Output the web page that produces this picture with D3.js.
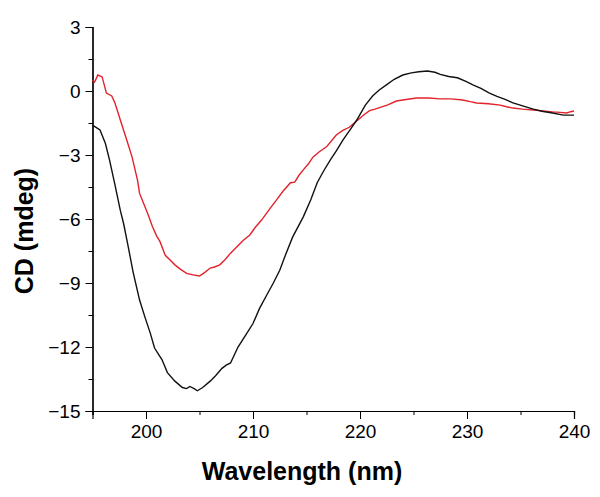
<!DOCTYPE html>
<html><head><meta charset="utf-8">
<script src="https://cdn.jsdelivr.net/npm/d3@7"></script>
<style>body{margin:0;background:#fff}svg{display:block}</style>
</head><body><svg id="c" width="600" height="497"></svg>
<script>
const xTicks = [200, 210, 220, 230, 240];
const yTicks = [3, 0, -3, -6, -9, -12, -15];
const blackWl = [195.0,195.4,195.7,196.2,196.6,197.1,197.6,197.9,198.3,198.8,199.4,199.9,200.4,200.8,201.5,202.0,202.7,203.4,203.8,204.1,204.5,204.8,205.3,206.0,206.5,207.1,207.5,207.9,208.6,209.3,210.0,210.6,211.3,211.9,212.5,213.1,213.7,214.7,215.4,216.0,216.6,217.2,217.8,218.4,219.1,219.7,220.5,221.2,221.8,222.5,223.2,224.0,224.8,225.5,226.3,227.0,227.5,228.3,229.1,229.9,230.6,231.3,232.1,232.8,233.5,234.3,235.2,236.2,237.0,238.0,239.0,240.0];
const blackCD = [-1.6,-1.73,-1.83,-2.45,-3.25,-4.4,-5.6,-6.2,-7.2,-8.5,-9.8,-10.6,-11.35,-12.05,-12.6,-13.2,-13.6,-13.9,-13.95,-13.85,-13.95,-14.05,-13.9,-13.6,-13.35,-13.0,-12.85,-12.75,-12.0,-11.45,-10.9,-10.2,-9.55,-9.0,-8.4,-7.6,-6.85,-5.9,-5.1,-4.3,-3.75,-3.25,-2.8,-2.3,-1.8,-1.36,-0.66,-0.22,0.05,0.3,0.55,0.75,0.85,0.9,0.94,0.88,0.78,0.68,0.62,0.45,0.28,0.12,-0.1,-0.25,-0.38,-0.56,-0.7,-0.85,-0.95,-1.03,-1.13,-1.13];
const redWl = [195.0,195.2,195.5,195.9,196.3,196.8,197.1,197.6,198.2,198.7,199.2,199.4,199.8,200.2,200.6,201.0,201.3,201.8,202.3,202.7,203.2,203.8,204.4,205.0,205.5,206.0,206.4,206.9,207.4,207.9,208.5,209.1,209.7,210.2,210.8,211.6,212.2,212.8,213.5,213.9,214.3,214.7,215.2,215.6,216.2,216.9,217.8,218.4,219.0,219.8,220.4,220.9,221.4,221.9,222.6,223.4,224.3,225.3,226.4,227.5,228.5,229.6,230.3,230.9,232.0,233.1,233.7,234.3,235.2,236.2,237.1,238.0,238.7,239.3,239.7,240.0];
const redCD = [0.52,0.42,0.75,0.66,-0.1,-0.23,-0.56,-1.36,-2.3,-3.1,-4.17,-4.8,-5.3,-5.8,-6.35,-6.8,-7.05,-7.7,-7.95,-8.15,-8.35,-8.55,-8.62,-8.67,-8.5,-8.3,-8.25,-8.15,-7.9,-7.6,-7.3,-7.0,-6.75,-6.4,-6.05,-5.5,-5.1,-4.7,-4.3,-4.27,-3.95,-3.7,-3.4,-3.1,-2.85,-2.6,-2.05,-1.85,-1.7,-1.36,-1.1,-0.92,-0.85,-0.77,-0.65,-0.47,-0.4,-0.33,-0.33,-0.37,-0.37,-0.42,-0.5,-0.56,-0.6,-0.66,-0.74,-0.8,-0.85,-0.89,-0.93,-0.98,-1.0,-1.03,-0.97,-0.94];

const svg = d3.select("#c");
const x = d3.scaleLinear().domain([195, 240]).range([92.5, 574]);
const y = d3.scaleLinear().domain([-15, 3]).range([411, 27]);
const font = "Arial, 'Liberation Sans', sans-serif";

const xMinor = d3.range(195, 241, 5).filter(v => !xTicks.includes(v));
const yMinor = d3.range(-13.5, 3, 3);
const gx = svg.append("g").attr("transform", "translate(0,411)");
gx.call(d3.axisBottom(x).tickValues(xMinor).tickSize(4).tickFormat(""));
gx.append("g").call(d3.axisBottom(x).tickValues(xTicks).tickSize(8).tickPadding(6).tickFormat(d3.format("d")));
gx.selectAll("path.domain").attr("stroke", "#000").attr("stroke-width", 1.2);
gx.selectAll("line").attr("stroke", "#000").attr("stroke-width", 1);
gx.selectAll("text").attr("font-family", font).attr("font-size", 19).attr("fill", "#000");

const gy = svg.append("g").attr("transform", "translate(92.5,0)");
gy.call(d3.axisLeft(y).tickValues(yMinor).tickSize(4).tickFormat(""));
gy.append("g").call(d3.axisLeft(y).tickValues(yTicks).tickSize(7).tickPadding(5).tickFormat(d3.format("d")));
gy.selectAll("path.domain").attr("stroke", "#000").attr("stroke-width", 1.2);
gy.selectAll("line").attr("stroke", "#000").attr("stroke-width", 1);
gy.selectAll("text").attr("font-family", font).attr("font-size", 19).attr("fill", "#000");

const line = d3.line().x(d => x(d[0])).y(d => y(d[1]));
svg.append("path").datum(redWl.map((w, i) => [w, redCD[i]]))
  .attr("d", line).attr("fill", "none").attr("stroke", "#e3222b").attr("stroke-width", 1.4);
svg.append("path").datum(blackWl.map((w, i) => [w, blackCD[i]]))
  .attr("d", line).attr("fill", "none").attr("stroke", "#111").attr("stroke-width", 1.4);

svg.append("text").attr("x", 302).attr("y", 480).attr("text-anchor", "middle")
  .attr("font-family", font).attr("font-weight", "bold").attr("font-size", 25).text("Wavelength (nm)");
svg.append("text").attr("transform", "translate(33,231) rotate(-90)").attr("text-anchor", "middle")
  .attr("font-family", font).attr("font-weight", "bold").attr("font-size", 25).text("CD (mdeg)");
</script></body></html>
